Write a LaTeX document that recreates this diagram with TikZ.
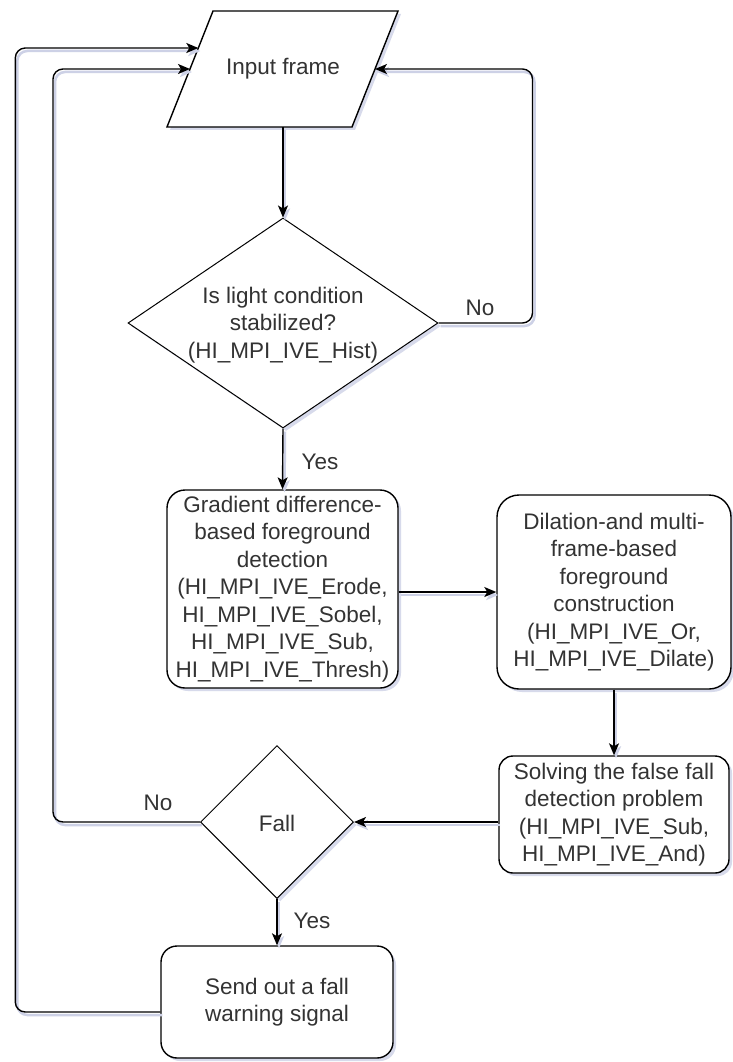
\documentclass[tikz,border=0pt]{standalone}
\usepackage{fontspec}
\setmainfont{Liberation Sans}
\usetikzlibrary{shapes.geometric,arrows.meta,shadows}
\definecolor{shadowc}{HTML}{CDD1E6}
\definecolor{txtc}{HTML}{333333}
\begin{document}
\begin{tikzpicture}[x=1pt,y=-1pt,
  every node/.style={font=\fontsize{22.5}{27.5}\selectfont, text=txtc},
  shad/.style={drop shadow={shadow xshift=3pt, shadow yshift=-3pt, fill=shadowc, opacity=0.8}},
  box/.style={draw, line width=1.4pt, rounded corners=18pt, fill=white, shad, inner sep=0pt, align=center},
  dia/.style={diamond, draw, line width=1pt, fill=white, shad, inner sep=0pt},
  txt/.style={align=center, inner sep=0pt},
  lab/.style={inner sep=0pt},
  conn/.style={line width=1.4pt, rounded corners=10pt,
    -{Stealth[length=12pt,width=10pt,inset=3pt]},
    preaction={draw=shadowc, line width=2.5pt, transform canvas={shift={(2pt,-3pt)}}}}
]
\fill[white] (0,0) rectangle (732,1062);
\useasboundingbox (0,0) rectangle (732,1062);

% Input frame (parallelogram)
\draw[line width=1.4pt, fill=white, shad] (213,11) -- (398,11) -- (352,127) -- (167,127) -- cycle;
\node[txt] (inp) at (283,69) {Input frame};
\coordinate (inL1) at (198.3,48);
\coordinate (inL2) at (190,69);
\coordinate (inR) at (375,69);
\coordinate (inB) at (283,127);

% Decision 1
\node[dia, minimum width=310pt, minimum height=210pt] (d1) at (283,323) {};
\node[txt] (d1t) at (283,325) {Is light condition\\stabilized?\\(HI\_MPI\_IVE\_Hist)};

% Boxes
\node[box, minimum width=231pt, minimum height=198pt] (b1) at (282.5,589)
  {Gradient difference-\\based foreground\\detection\\(HI\_MPI\_IVE\_Erode,\\HI\_MPI\_IVE\_Sobel,\\HI\_MPI\_IVE\_Sub,\\HI\_MPI\_IVE\_Thresh)};
\node[box, rounded corners=22pt, minimum width=234pt, minimum height=194pt] (b2) at (614,592)
  {Dilation-and multi-\\frame-based\\foreground\\construction\\(HI\_MPI\_IVE\_Or,\\HI\_MPI\_IVE\_Dilate)};
\node[box, rounded corners=14pt, minimum width=230pt, minimum height=117pt] (b3) at (614,814.5)
  {Solving the false fall\\detection problem\\(HI\_MPI\_IVE\_Sub,\\HI\_MPI\_IVE\_And)};

% Decision 2
\node[dia, minimum width=153pt, minimum height=153pt] (fall) at (277,822) {};
\node[txt] (fallt) at (277,823) {Fall};

\node[box, rounded corners=16pt, minimum width=232pt, minimum height=112pt] (b4) at (277,1002)
  {Send out a fall\\warning signal};

% Connectors
\draw[conn] (inB) -- (d1.north);
\draw[conn] (d1.south) -- (b1.north);
\draw[conn] (b1.east |- b2.west) -- (b2.west);
\draw[conn] (b2.south) -- (b3.north);
\draw[conn] (fall.east -| b3.west) -- (fall.east);
\draw[conn] (fall.south) -- (b4.north);
\draw[conn] (d1.east) -- ++(94,0) |- (inR);
\draw[conn] (fall.west) -- ++(-147,0) |- (inL2);
\draw[conn] ([yshift=-10pt]b4.west) -- ++(-145,0) |- (inL1);

% Labels
\node[lab] (no1) at (480,308) {No};
\node[lab] (yes1) at (320,462) {Yes};
\node[lab] (no2) at (158,803) {No};
\node[lab] (yes2) at (312,921) {Yes};
\end{tikzpicture}
\end{document}
